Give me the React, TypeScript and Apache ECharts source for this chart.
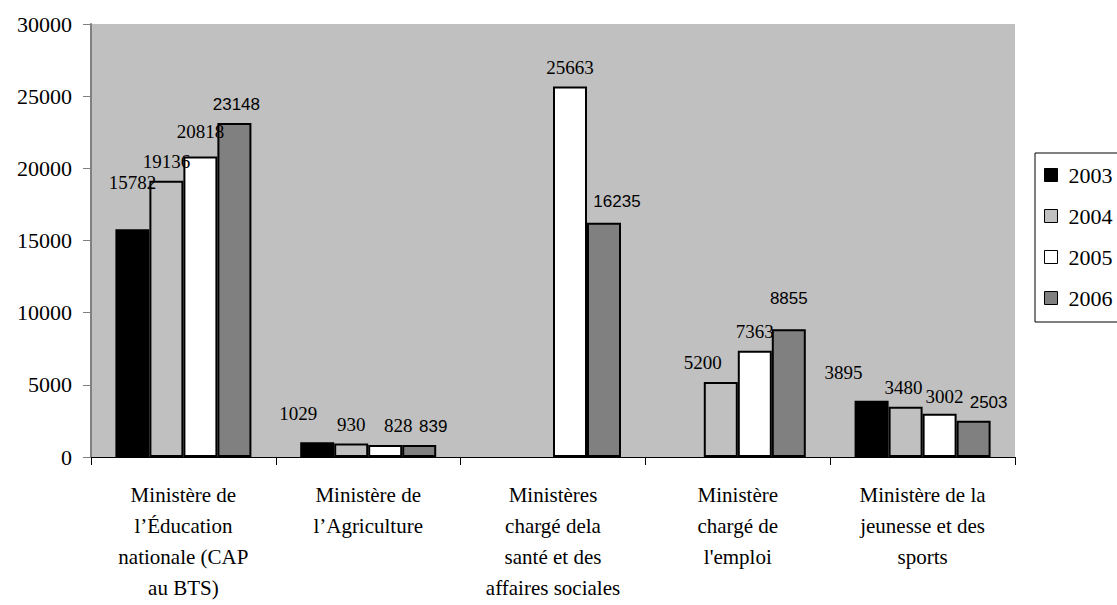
import React, { useEffect, useRef } from "react";
import * as echarts from "echarts";

const categories = [
  "Ministère de\nl’Éducation\nnationale (CAP\nau BTS)",
  "Ministère de\nl’Agriculture",
  "Ministères\nchargé dela\nsanté et des\naffaires sociales",
  "Ministère\nchargé de\nl'emploi",
  "Ministère de la\njeunesse et des\nsports",
];
const seriesNames = ["2003", "2004", "2005", "2006"];
const values2003 = [15782, 1029, null, null, 3895];
const values2004 = [19136, 930, null, 5200, 3480];
const values2005 = [20818, 828, 25663, 7363, 3002];
const values2006 = [23148, 839, 16235, 8855, 2503];
const yTicks = { min: 0, max: 30000, interval: 5000 };

// label nudges [dx, dy] per series, per category (presentation only)
const labelNudges = [
  [[0, -27], [-19, -9], [0, 0], [0, 0], [-28, -9]],
  [[0, 0], [0, 0], [0, 0], [-18, 0], [-2, 0]],
  [[0, -6], [13, 0], [0, 0], [0, 0], [5, 2]],
  [[2, 0], [14, 0], [13, -3], [0, -12], [15, 0]],
];

const colors = ["#000000", "#c0c0c0", "#ffffff", "#808080"];
const serif = "'Liberation Serif', 'Times New Roman', serif";
const sans = "'Liberation Sans', Arial, sans-serif";

export default function App() {
  const ref = useRef<HTMLDivElement>(null);
  useEffect(() => {
    if (!ref.current) return;
    const chart = echarts.init(ref.current, undefined, { renderer: "svg" });
    const all = [values2003, values2004, values2005, values2006];
    const series = all.map((vals, si) => {
      const fam = si === 3 ? sans : serif;
      const size = si === 3 ? 17 : 19;
      const labelStyle = {
        show: true,
        position: "top",
        distance: 10,
        color: "#000",
        fontFamily: fam,
        fontSize: size,
      };
      return {
        name: seriesNames[si],
        type: "bar",
        barWidth: 34,
        barGap: "0%",
        barCategoryGap: "26%",
        itemStyle: { color: colors[si], borderColor: "#000", borderWidth: 2 },
        data: vals.map((v, ci) => ({
          value: v,
          label: { ...labelStyle, offset: labelNudges[si][ci] },
        })),
        label: labelStyle,
      };
    });
    chart.setOption({
      animation: false,
      backgroundColor: "#ffffff",
      textStyle: { fontFamily: serif },
      grid: {
        left: 91,
        right: 102,
        top: 24,
        bottom: 148,
        show: true,
        backgroundColor: "#c0c0c0",
        borderWidth: 0,
      },
      legend: {
        orient: "vertical",
        left: 1035,
        top: 153,
        padding: [11, 30, 13, 9],
        itemGap: 19,
        itemWidth: 13,
        itemHeight: 13,
        icon: "rect",
        borderColor: "#000",
        borderWidth: 1,
        itemStyle: { borderWidth: 1, borderColor: "#000" },
        textStyle: { fontFamily: serif, fontSize: 22, color: "#000", padding: [0, 0, 0, 6] },
        data: seriesNames,
      },
      xAxis: {
        type: "category",
        data: categories,
        axisLine: { lineStyle: { color: "#000", width: 1 } },
        axisTick: { show: true, length: 8, lineStyle: { color: "#000" } },
        axisLabel: {
          interval: 0,
          margin: 22,
          lineHeight: 31,
          fontFamily: serif,
          fontSize: 21,
          color: "#000",
        },
      },
      yAxis: {
        type: "value",
        min: yTicks.min,
        max: yTicks.max,
        interval: yTicks.interval,
        axisLine: { show: true, lineStyle: { color: "#808080", width: 2 } },
        axisTick: { show: true, length: 8, lineStyle: { color: "#808080" } },
        splitLine: { show: false },
        axisLabel: {
          margin: 19,
          fontFamily: serif,
          fontSize: 22,
          color: "#000",
          formatter: (v: number) => String(v),
        },
      },
      series,
    });
    return () => chart.dispose();
  }, []);
  return <div ref={ref} style={{ width: 1117, height: 605, position: "absolute", left: 0, top: 0 }} />;
}
